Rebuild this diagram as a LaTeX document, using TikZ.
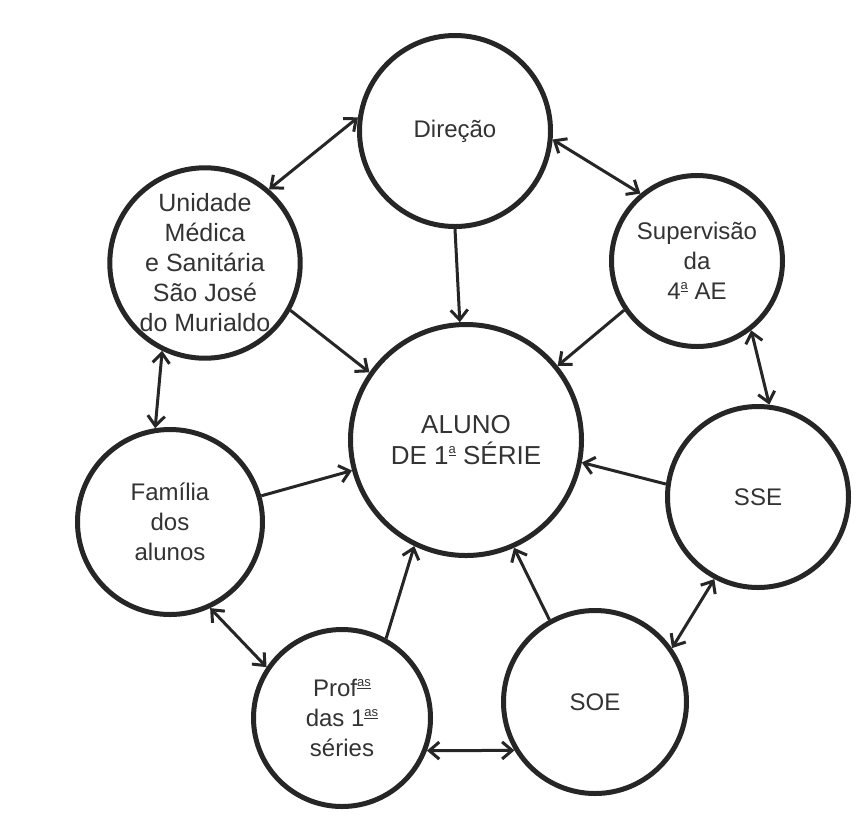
\documentclass[tikz,border=0pt]{standalone}
\usepackage{fontspec}
\setmainfont{Liberation Sans}
\usepackage{tikz}
\usetikzlibrary{arrows.meta}
\newcommand{\ord}[1]{\raisebox{0.8ex}{\fontsize{13}{13}\selectfont\underline{#1}}}
\tikzset{
  bola/.style={draw=black!85, line width=5pt, circle, inner sep=0pt, align=center,
    text=black!80, font=\fontsize{24}{30}\selectfont},
  seta/.style={draw=black!85, line width=3pt, ->},
  dupla/.style={draw=black!85, line width=3pt, <->},
  >={Straight Barb[length=10pt,width=17pt]}
}

\begin{document}
\begin{tikzpicture}[x=1pt,y=-1pt]
\useasboundingbox[fill=white] (0,0) rectangle (859,823);

\node[bola, minimum size=231pt, font=\fontsize{26}{31}\selectfont] (aluno) at (466,440)
  {ALUNO\\DE 1\ord{a} SÉRIE};
\node[bola, minimum size=191pt] (direcao) at (455,131) {Direção};
\node[bola, minimum size=171pt] (superv) at (697,261) {Supervisão\\da\\4\ord{a} AE};
\node[bola, minimum size=181pt] (sse) at (758,497) {SSE};
\node[bola, minimum size=183pt] (soe) at (595,702) {SOE};
\node[bola, minimum size=177pt] (profas) at (342,718) {Prof\ord{as}\\das 1\ord{as}\\séries};
\node[bola, minimum size=185pt] (familia) at (170,522) {Família\\dos\\alunos};
\node[bola, minimum size=187pt, font=\fontsize{25}{30}\selectfont] (unidade) at (205,263)
  {Unidade\\Médica\\e Sanitária\\São José\\do Murialdo};

\draw[seta] (direcao.270) -- (aluno.93);
\draw[seta] (unidade.-29) -- (aluno.145);
\draw[seta] (superv.214) -- (aluno.39);
\draw[seta] (sse.172) -- (aluno.-11);
\draw[seta] (soe.119) -- (aluno.-66);
\draw[seta] (profas.61) -- (aluno.244);
\draw[seta] (familia.16) -- (aluno.195);

\draw[dupla] (unidade.49) -- (direcao.172);
\draw[dupla] (direcao.-5) -- (superv.130);
\draw[dupla] (superv.-52) -- (sse.83);
\draw[dupla] (sse.242) -- (soe.35);
\draw[dupla] (profas.-21) -- (soe.211);
\draw[dupla] (familia.-65) -- (profas.146);
\draw[dupla] (unidade.244) -- (familia.99);
\end{tikzpicture}
\end{document}
